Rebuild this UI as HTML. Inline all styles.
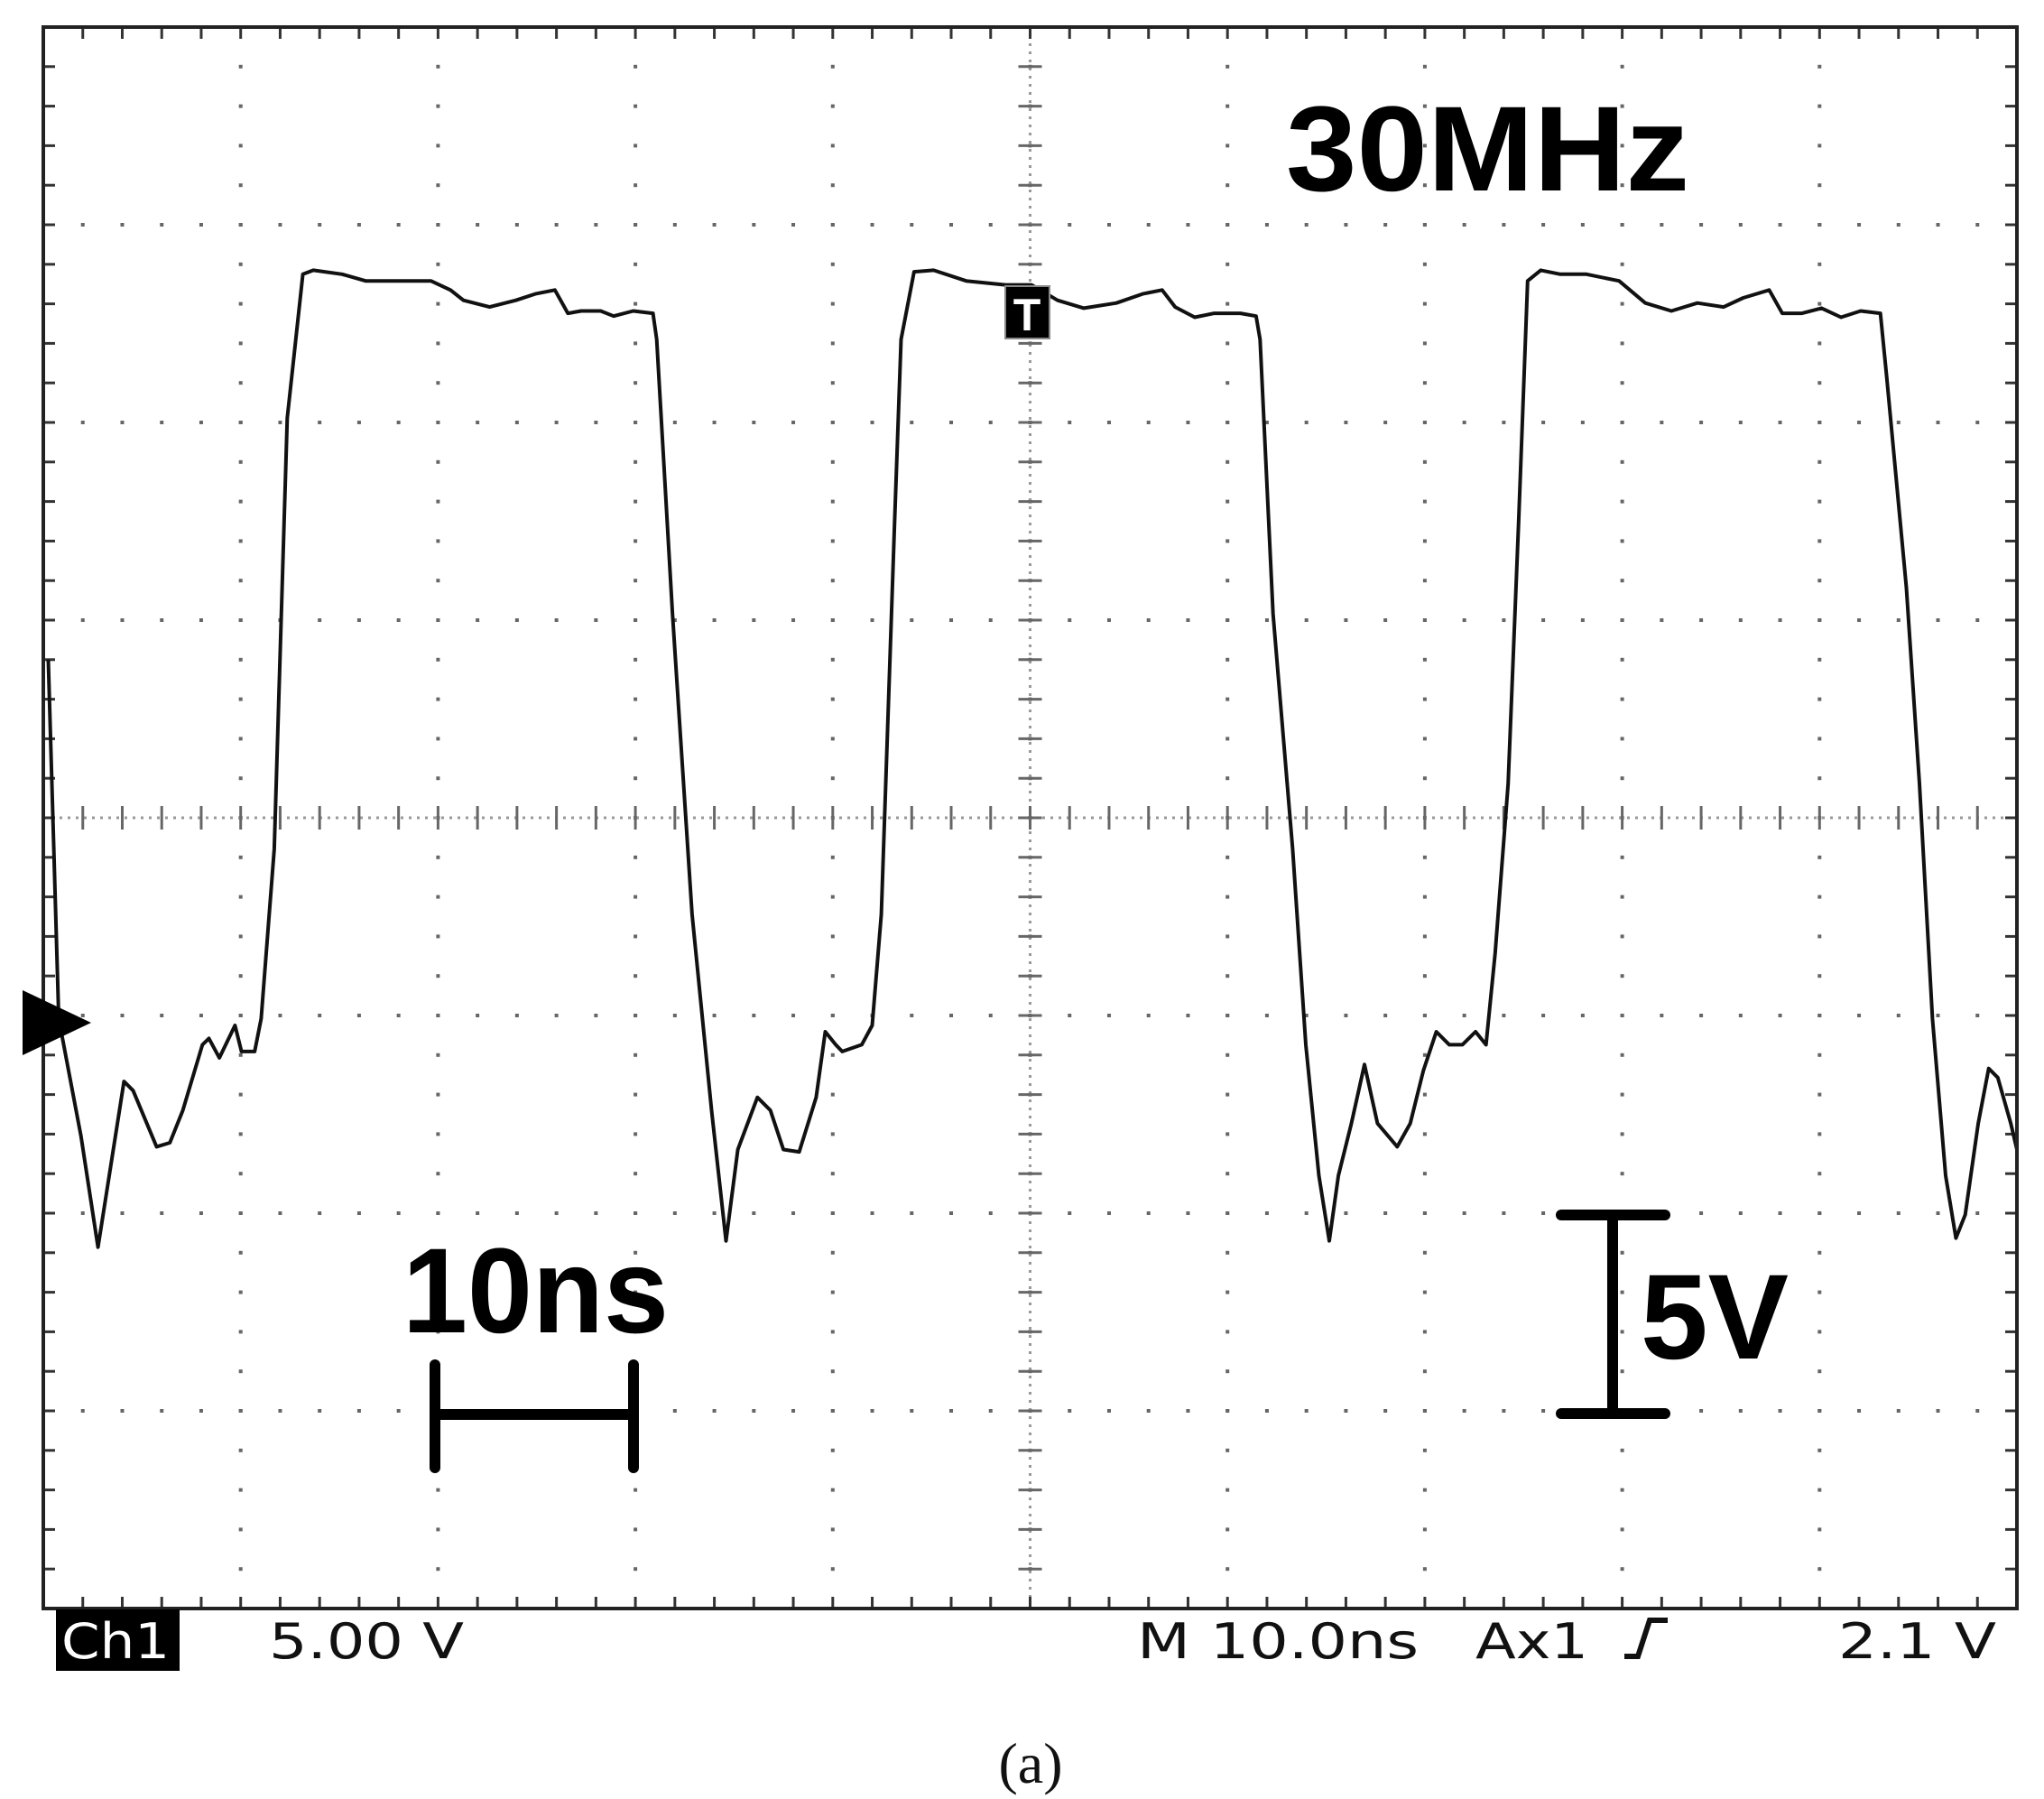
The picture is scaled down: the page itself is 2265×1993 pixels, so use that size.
<!DOCTYPE html>
<html><head><meta charset="utf-8"><style>
html,body{margin:0;padding:0;background:#fff;width:2265px;height:1993px;overflow:hidden}
svg{display:block}
</style></head><body>
<svg id="chart" width="2265" height="1993" viewBox="0 0 2265 1993" xmlns="http://www.w3.org/2000/svg">
<g id="grid"></g>
<path id="wave" fill="none" stroke="#111" stroke-width="4" stroke-linejoin="round"/>
<rect x="48" y="30" width="2187" height="1752" fill="none" stroke="#222" stroke-width="4"/>
<g>
<rect x="1114" y="317" width="49" height="58" fill="#000" stroke="#888" stroke-width="2"/>
<text x="1138" y="366" text-anchor="middle" font-family="Liberation Sans, sans-serif" font-weight="bold" font-size="50" fill="#fff">T</text>
</g>
<polygon points="25,1097 101,1133 25,1169" fill="#000"/>
<text x="1425" y="211" font-family="Liberation Sans, sans-serif" font-weight="bold" font-size="134" textLength="447" lengthAdjust="spacingAndGlyphs">30MHz</text>
<text x="446" y="1476" font-family="Liberation Sans, sans-serif" font-weight="bold" font-size="134" textLength="295" lengthAdjust="spacingAndGlyphs">10ns</text>
<g stroke="#000" stroke-width="12" stroke-linecap="round">
<line x1="482" y1="1567" x2="702" y2="1567"/><line x1="482" y1="1512" x2="482" y2="1626"/><line x1="702" y1="1512" x2="702" y2="1626"/>
</g>
<g stroke="#000" stroke-width="12" stroke-linecap="round">
<line x1="1787" y1="1346" x2="1787" y2="1566"/><line x1="1730" y1="1346" x2="1845" y2="1346"/><line x1="1730" y1="1566" x2="1845" y2="1566"/>
</g>
<text x="1818" y="1505" font-family="Liberation Sans, sans-serif" font-weight="bold" font-size="134" textLength="164" lengthAdjust="spacingAndGlyphs">5V</text>
<rect x="62" y="1783" width="137" height="68" fill="#000"/>
<text x="68" y="1837" font-family="DejaVu Sans, sans-serif" font-size="54" fill="#fff" textLength="120" lengthAdjust="spacingAndGlyphs">Ch1</text>
<text x="298" y="1837" font-family="DejaVu Sans, sans-serif" font-size="54" fill="#111" textLength="216" lengthAdjust="spacingAndGlyphs">5.00 V</text>
<text x="1260" y="1837" font-family="DejaVu Sans, sans-serif" font-size="54" fill="#111" textLength="312" lengthAdjust="spacingAndGlyphs">M 10.0ns</text>
<text x="1635" y="1837" font-family="DejaVu Sans, sans-serif" font-size="54" fill="#111" textLength="125" lengthAdjust="spacingAndGlyphs">Ax1</text>
<path d="M1800,1835 L1815,1835 L1828,1795 L1848,1795" fill="none" stroke="#111" stroke-width="6"/>
<text x="2037" y="1837" font-family="DejaVu Sans, sans-serif" font-size="54" fill="#111" textLength="175" lengthAdjust="spacingAndGlyphs">2.1 V</text>
<text x="1142" y="1975" text-anchor="middle" font-family="Liberation Serif, serif" font-size="64" fill="#111">(a)</text>
</svg>
<script>
const times=[0.25,0.78,1.91,2.77,4.09,4.55,5.74,6.41,7.07,8.06,8.39,8.92,9.71,10.04,10.71,11.04,11.70,12.36,13.15,13.68,15.14,16.33,19.64,20.63,21.29,22.61,23.94,24.93,25.92,26.58,27.25,28.24,28.90,29.89,30.89,31.08,31.88,32.87,33.86,34.59,35.19,36.18,36.84,37.50,38.30,39.16,39.62,40.15,40.48,41.47,42.00,42.46,43.13,43.46,44.12,45.11,46.76,48.75,50.07,51.39,52.72,54.37,55.70,56.69,57.35,58.34,59.33,60.66,61.45,61.65,62.31,63.30,63.97,64.63,65.16,65.62,66.28,66.94,67.60,68.60,69.26,69.92,70.58,71.24,71.90,72.57,73.10,73.56,74.22,74.75,75.21,75.87,76.87,78.19,79.84,81.17,82.49,83.81,85.14,86.13,87.45,88.11,89.11,90.10,91.09,92.08,93.08,93.41,94.40,95.06,95.72,96.39,96.91,97.38,98.04,98.57,99.03,99.69,100.0];
const volts=[4.00,-5.08,-8.06,-10.86,-6.67,-6.90,-8.32,-8.22,-7.40,-5.74,-5.58,-6.07,-5.25,-5.91,-5.91,-5.08,-0.79,10.11,13.75,13.85,13.75,13.58,13.58,13.35,13.09,12.92,13.09,13.25,13.35,12.76,12.82,12.82,12.69,12.82,12.76,12.10,5.16,-2.44,-7.40,-10.70,-8.39,-7.07,-7.40,-8.39,-8.45,-7.07,-5.41,-5.74,-5.91,-5.74,-5.25,-2.44,7.47,12.10,13.81,13.85,13.58,13.48,13.48,13.09,12.89,13.02,13.25,13.35,12.92,12.66,12.76,12.76,12.69,12.10,5.16,-0.79,-5.74,-9.05,-10.70,-9.05,-7.73,-6.24,-7.73,-8.32,-7.73,-6.40,-5.41,-5.74,-5.74,-5.41,-5.74,-3.43,0.86,7.47,13.58,13.85,13.75,13.75,13.58,13.02,12.82,13.02,12.92,13.15,13.35,12.76,12.76,12.89,12.66,12.82,12.76,11.10,5.82,0.86,-5.08,-9.05,-10.63,-10.04,-7.73,-6.34,-6.57,-7.73,-8.39];
const X0=48,DIVX=218.7,Y0=906,DIVY=219,NSDIV=10,VDIV=5;
function xs(t){return X0+t/NSDIV*DIVX;}
function ys(v){return Y0-v/VDIV*DIVY;}
const SVGNS='http://www.w3.org/2000/svg';
const gridG=document.getElementById('grid');
function mk(tag,a){const e=document.createElementNS(SVGNS,tag);for(const k in a)e.setAttribute(k,a[k]);gridG.appendChild(e);return e;}
const ptop=30,pbot=1782,pleft=48,pright=2235,mx=DIVX/5,my=DIVY/5;
for(let i=1;i<10;i++){const x=pleft+i*DIVX;for(let j=1;j<40;j++){const y=ptop+j*my;const d=mk('rect',{x:x-2,y:y-2,width:4,height:4,fill:'#666'});

}}
for(let j=1;j<8;j++){if(j===4)continue;const y=ptop+j*DIVY;for(let i=1;i<50;i++){const x=pleft+i*mx;const d=mk('rect',{x:x-2,y:y-2,width:4,height:4,fill:'#666'});

}}
const cx=pleft+5*DIVX,cy=ptop+4*DIVY;
let l=mk('line',{x1:pleft,y1:cy,x2:pright,y2:cy,stroke:'#999','stroke-width':3,'stroke-dasharray':'3 6'});


l=mk('line',{x1:cx,y1:ptop,x2:cx,y2:pbot,stroke:'#999','stroke-width':3,'stroke-dasharray':'3 6'});


for(let i=1;i<50;i++){const x=pleft+i*mx;const t=mk('line',{x1:x,y1:cy-13,x2:x,y2:cy+13,stroke:'#666','stroke-width':3});


const b=mk('line',{x1:x,y1:pbot-13,x2:x,y2:pbot,stroke:'#333','stroke-width':3});


const tp=mk('line',{x1:x,y1:ptop,x2:x,y2:ptop+13,stroke:'#333','stroke-width':3});

}
for(let j=1;j<40;j++){const y=ptop+j*my;const t=mk('line',{x1:cx-13,y1:y,x2:cx+13,y2:y,stroke:'#666','stroke-width':3});


const a=mk('line',{x1:pleft,y1:y,x2:pleft+13,y2:y,stroke:'#333','stroke-width':3});


const b=mk('line',{x1:pright-13,y1:y,x2:pright,y2:y,stroke:'#333','stroke-width':3});

}
let pd='';for(let i=0;i<times.length;i++){pd+=(i?'L':'M')+xs(times[i]).toFixed(1)+','+ys(volts[i]).toFixed(1);}
document.getElementById('wave').setAttribute('d',pd);
</script>
</body></html>
